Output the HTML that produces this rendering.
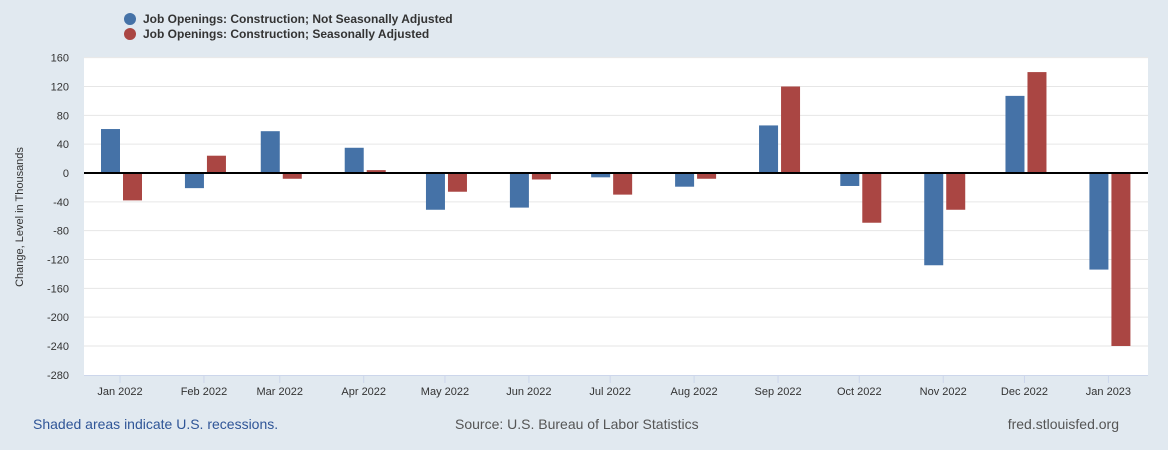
<!DOCTYPE html>
<html><head><meta charset="utf-8"><style>
body{margin:0;background:#e1e9f0;font-family:"Liberation Sans",sans-serif;}
svg{display:block}
</style></head><body>
<svg id="c" width="1168" height="450">
<rect x="0" y="0" width="1168" height="450" fill="#e1e9f0"/>
<rect x="84" y="57" width="1064" height="318" fill="#ffffff"/>
<g>
<circle cx="130" cy="19" r="6" fill="#4572a7"/>
<text x="143" y="23" font-size="12" font-weight="bold" fill="#333">Job Openings: Construction; Not Seasonally Adjusted</text>
<circle cx="130" cy="34" r="6" fill="#aa4643"/>
<text x="143" y="38" font-size="12" font-weight="bold" fill="#333">Job Openings: Construction; Seasonally Adjusted</text>
</g>
<text transform="translate(23,217) rotate(-90)" text-anchor="middle" font-size="11" fill="#333">Change, Level in Thousands</text>
<line x1="84" x2="1148" y1="375.5" y2="375.5" stroke="#ccd6eb"/>
<g id="grid"></g><g id="bars"></g><g id="xl"></g>
<text x="33" y="429" font-size="14" fill="#2f5597">Shaded areas indicate U.S. recessions.</text>
<text x="455" y="429" font-size="14" fill="#555">Source: U.S. Bureau of Labor Statistics</text>
<text x="1119" y="429" font-size="14" fill="#555" text-anchor="end">fred.stlouisfed.org</text>
</svg>
<script>
const categories=["Jan 2022","Feb 2022","Mar 2022","Apr 2022","May 2022","Jun 2022","Jul 2022","Aug 2022","Sep 2022","Oct 2022","Nov 2022","Dec 2022","Jan 2023"];
const nsaValues=[61,-21,58,35,-51,-48,-6,-19,66,-18,-128,107,-134];
const saValues=[-38,24,-8,4,-26,-9,-30,-8,120,-69,-51,140,-240];
const yTicks=[160,120,80,40,0,-40,-80,-120,-160,-200,-240,-280];
const NS="http://www.w3.org/2000/svg";
const y=v=>173-v*0.7208;
const mon={Jan:0,Feb:1,Mar:2,Apr:3,May:4,Jun:5,Jul:6,Aug:7,Sep:8,Oct:9,Nov:10,Dec:11};
const t0=Date.UTC(2022,0,1);
const x=c=>{const [m,yr]=c.split(" ");return 120+(Date.UTC(+yr,mon[m],1)-t0)/864e5*2.708;};
function mk(tag,a,p){const e=document.createElementNS(NS,tag);for(const k in a)e.setAttribute(k,a[k]);p.appendChild(e);return e;}
const g=document.getElementById("grid");
yTicks.forEach(v=>{
 if(v!==0&&v!==-280){const l=mk("line",{x1:84,x2:1148,y1:y(v),y2:y(v),stroke:"#e6e6e6","stroke-width":1},g);
 
 }
 const t=mk("text",{x:69,y:y(v)+4,"text-anchor":"end","font-size":11,fill:"#333"},g);
 t.textContent=v;
 
 
});
const b=document.getElementById("bars");
categories.forEach((c,i)=>{
 const cx=x(c);
 const v1=nsaValues[i],v2=saValues[i];
 const r1=mk("rect",{x:cx-19,y:Math.min(y(v1),y(0)),width:19,height:Math.abs(y(v1)-y(0)),fill:"#4572a7"},b);
 
 
 const r2=mk("rect",{x:cx+3,y:Math.min(y(v2),y(0)),width:19,height:Math.abs(y(v2)-y(0)),fill:"#aa4643"},b);
 
 
 const tk=mk("line",{x1:cx,x2:cx,y1:375,y2:383,stroke:"#ccd6eb"},b);
 
 
 const t=mk("text",{x:cx,y:395,"text-anchor":"middle","font-size":11,fill:"#333"},document.getElementById("xl"));
 t.textContent=c;
 
 
});
const z=mk("line",{x1:84,x2:1148,y1:y(0),y2:y(0),stroke:"#000","stroke-width":2},b);


</script>
</body></html>
